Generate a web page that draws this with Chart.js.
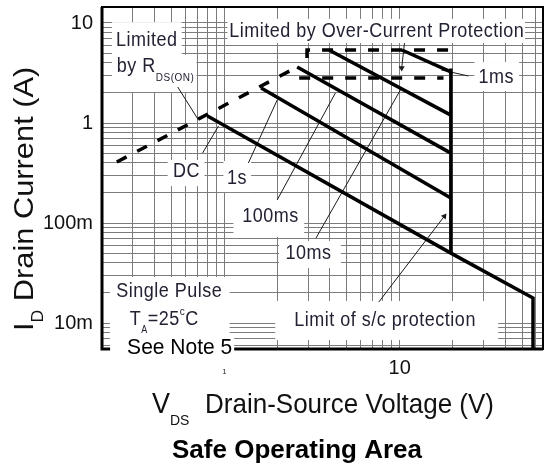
<!DOCTYPE html>
<html>
<head>
<meta charset="utf-8">
<script src="https://cdn.jsdelivr.net/npm/chart.js@4.4.0/dist/chart.umd.min.js"></script>
<style>
  html, body { margin: 0; padding: 0; background: #fff; }
  #wrap { width: 547px; height: 465px; }
</style>
</head>
<body>
<div id="wrap"><canvas id="soa" width="547" height="465"></canvas></div>
<script>
// axis ranges (V, A) and grid
const xRange = [0.2, 65.8];
const yRange = [0.0055, 14.45];
const xGrid = [0.2, 0.3, 0.4, 0.5, 0.6, 0.7, 0.8, 0.9, 1, 2, 3, 4, 5, 6, 7, 8, 9, 10, 20, 30, 40, 50, 60];
const yGrid = [0.006, 0.007, 0.008, 0.009, 0.01, 0.02, 0.03, 0.04, 0.05, 0.06, 0.07, 0.08, 0.09,
               0.1, 0.2, 0.3, 0.4, 0.5, 0.6, 0.7, 0.8, 0.9, 1, 2, 3, 4, 5, 6, 7, 8, 9, 10];
const xTickLabels = { 1: '1', 10: '10' };
const yTickLabels = { 0.01: '10m', 0.1: '100m', 1: '1', 10: '10' };

// SOA curves (V, A)
const rdsV = [0.243, 2.60];           const rdsI = [0.407, 3.63];
const dcV = [0.80, 19.6, 57.7, 57.7]; const dcI = [1.175, 0.050, 0.0178, 0.0055];
const oneSecV = [1.62, 19.6];         const oneSecI = [2.24, 0.178];
const hundredMsV = [2.60, 19.6];      const hundredMsI = [3.63, 0.50];
const tenMsV = [3.95, 19.6];          const tenMsI = [5.37, 1.20];
const oneMsV = [10.3, 19.6];          const oneMsI = [5.37, 3.24];
const limitV = [19.6, 19.6];          const limitI = [3.5, 0.050];
const ocMaxV = [2.96, 2.96, 19.6];    const ocMaxI = [4.47, 5.37, 5.37];
const ocMinV = [2.67, 17.8];          const ocMinI = [2.82, 2.82];

// leader lines for the notes (V, A)
const rdsLeadV = [0.541, 0.711];      const rdsLeadI = [2.29, 1.07];
const dcLeadV = [0.750, 0.924];       const dcLeadI = [0.50, 0.933];
const oneSecLeadV = [1.369, 2.0];     const oneSecLeadI = [0.398, 1.70];
const hundredMsLeadV = [2.0, 4.3];    const hundredMsLeadI = [0.170, 2.0];
const tenMsLeadV = [3.33, 10.1];      const tenMsLeadI = [0.0708, 2.14];
const oneMsLeadV = [24.7, 17.3];      const oneMsLeadI = [2.95, 3.39];
const ocLeadV = [10.66, 10.27];       const ocLeadI = [6.3, 3.55];
const scLeadV = [7.6, 18.0];          const scLeadI = [0.0162, 0.117];

const FAM = "'Liberation Sans', Arial, sans-serif";

// white areas behind the notes: [v1, v2, i1, i2]
const masks = [
  [0.228, 0.570, 10.2, 4.79],
  [0.228, 0.693, 4.79, 2.04],
  [1.04, 52.0, 11.0, 6.31],
  [26.7, 48.1, 4.07, 2.09],
  [0.474, 0.770, 0.427, 0.234],
  [0.987, 1.42, 0.417, 0.204],
  [1.125, 2.85, 0.174, 0.0724],
  [2.05, 4.62, 0.0661, 0.0355],
  [1.95, 36.5, 0.0166, 0.00676],
  [0.222, 1.07, 0.0288, 0.0055]
];

// notes: anchor (V, A), alignment, text runs [text, size, dy]
const notes = [
  { at: [0.360, 6.68], align: 'center', runs: [['Limited', 18, 0]] },
  { at: [0.243, 3.72], align: 'left', runs: [['by R', 18, 0], ['DS(ON)', 10, 11]] },
  { at: [7.40, 8.32], align: 'center', runs: [['Limited by Over-Current Protection', 18, 0]] },
  { at: [35.6, 2.85], align: 'center', runs: [['1ms', 18, 0]] },
  { at: [0.608, 0.327], align: 'center', runs: [['DC', 18, 0]] },
  { at: [1.178, 0.282], align: 'center', runs: [['1s', 18, 0]] },
  { at: [1.83, 0.116], align: 'center', runs: [['100ms', 18, 0]] },
  { at: [3.02, 0.0495], align: 'center', runs: [['10ms', 18, 0]] },
  { at: [8.26, 0.0107], align: 'center', runs: [['Limit of s/c protection', 18, 0]] },
  { at: [0.484, 0.0209], align: 'center', runs: [['Single Pulse', 18, 0]] },
  { at: [0.288, 0.0108], align: 'left', runs: [['T', 18, 0], ['A', 9, 9], ['=25', 18, 0], ['c', 10, -7], ['C', 18, 0]] },
  { at: [0.555, 0.00562], align: 'center', runs: [['See Note 5', 21, 0]], plain: true, box: [17, 2, 11] }
];

const curve = (xs, ys) => xs.map((v, i) => ({ x: v, y: ys[i] }));
const thick = { borderColor: '#000', borderWidth: 3.5, pointRadius: 0, tension: 0, fill: false };
const dashed = Object.assign({}, thick, { borderDash: [11, 12] });
const lead = { borderColor: '#1a1a1a', borderWidth: 1, pointRadius: 0, tension: 0, fill: false };
const arrowLead = angle => Object.assign({}, lead, {
  pointRadius: ctx => (ctx.dataIndex === 1 ? 3.5 : 0),
  pointStyle: 'triangle',
  rotation: angle,
  pointBackgroundColor: '#1a1a1a',
  pointBorderWidth: 0
});

function drawRuns(ctx, runs, x0, y0, align, stretch, spacing, color) {
  ctx.save();
  ctx.translate(x0, y0);
  ctx.scale(1, stretch);
  ctx.letterSpacing = spacing + 'px';
  ctx.textBaseline = 'middle';
  ctx.textAlign = 'left';
  ctx.fillStyle = color;
  let total = 0;
  runs.forEach(([t, size]) => { ctx.font = size + 'px ' + FAM; total += ctx.measureText(t).width; });
  let x = align === 'center' ? -total / 2 : 0;
  runs.forEach(([t, size, dy]) => {
    ctx.font = size + 'px ' + FAM;
    ctx.fillText(t, x, dy);
    x += ctx.measureText(t).width;
  });
  ctx.restore();
  return total;
}

const decor = {
  id: 'decor',
  beforeDatasetsDraw(chart) {
    const { ctx, chartArea: a, scales: { x, y } } = chart;
    ctx.save();
    ctx.fillStyle = '#fff';
    masks.forEach(([v1, v2, i1, i2]) => {
      const x1 = x.getPixelForValue(v1), x2 = x.getPixelForValue(v2);
      const y1 = y.getPixelForValue(i1), y2 = y.getPixelForValue(i2);
      ctx.fillRect(Math.min(x1, x2), Math.min(y1, y2), Math.abs(x2 - x1), Math.abs(y2 - y1));
    });
    // frame
    ctx.strokeStyle = '#000';
    ctx.lineWidth = 2;
    ctx.strokeRect(a.left, a.top, a.right - a.left, a.bottom - a.top);
    ctx.lineWidth = 3;
    ctx.beginPath();
    ctx.moveTo(a.left, a.top);
    ctx.lineTo(a.left, a.bottom);
    ctx.lineTo(a.right, a.bottom);
    ctx.stroke();
    ctx.restore();
  },
  afterDatasetsDraw(chart) {
    const { ctx, scales: { x, y } } = chart;
    notes.forEach(n => {
      const px = x.getPixelForValue(n.at[0]);
      const py = y.getPixelForValue(n.at[1]);
      if (n.box) {
        ctx.save();
        ctx.font = n.runs[0][1] + 'px ' + FAM;
        const w = ctx.measureText(n.runs[0][0]).width;
        ctx.fillStyle = '#fff';
        ctx.fillRect(px - w / 2 - n.box[0], py - n.box[2], w + n.box[0] + n.box[1], n.box[2] * 2);
        ctx.restore();
      }
      if (n.plain) drawRuns(ctx, n.runs, px, py, n.align, 1.07, 0, '#000');
      else drawRuns(ctx, n.runs, px, py, n.align, 1.12, 0.5, '#222233');
    });
  },
  afterDraw(chart) {
    const { ctx } = chart;
    // y axis title, rotated
    ctx.save();
    ctx.translate(33, 331);
    ctx.scale(1, 1.1);
    ctx.rotate(-Math.PI / 2);
    ctx.fillStyle = '#111';
    ctx.textBaseline = 'alphabetic';
    let xx = 0;
    [['I', 28, 0], ['D', 16, 10], [' Drain Current (A)', 28, 0]].forEach(([t, s, dy]) => {
      ctx.font = s + 'px ' + FAM;
      ctx.fillText(t, xx, dy);
      xx += ctx.measureText(t).width;
    });
    ctx.restore();
    // x axis title
    ctx.save();
    ctx.fillStyle = '#111';
    ctx.textBaseline = 'alphabetic';
    ctx.translate(0, 413);
    ctx.scale(1, 1.08);
    ctx.font = '27px ' + FAM;
    ctx.fillText('V', 152, 0);
    ctx.font = '14px ' + FAM;
    ctx.fillText('DS', 170, 11);
    ctx.font = '26px ' + FAM;
    ctx.fillText('Drain-Source Voltage (V)', 205, 0);
    ctx.restore();
    // chart caption
    ctx.save();
    ctx.fillStyle = '#000';
    ctx.font = 'bold 26px ' + FAM;
    ctx.textAlign = 'center';
    ctx.textBaseline = 'alphabetic';
    ctx.fillText('Safe Operating Area', 297, 458);
    ctx.restore();
  }
};

new Chart(document.getElementById('soa').getContext('2d'), {
  type: 'line',
  data: {
    datasets: [
      Object.assign({ label: 'RDS(on)', data: curve(rdsV, rdsI) }, dashed),
      Object.assign({ label: 'DC', data: curve(dcV, dcI) }, thick),
      Object.assign({ label: '1s', data: curve(oneSecV, oneSecI) }, thick),
      Object.assign({ label: '100ms', data: curve(hundredMsV, hundredMsI) }, thick),
      Object.assign({ label: '10ms', data: curve(tenMsV, tenMsI) }, thick),
      Object.assign({ label: '1ms', data: curve(oneMsV, oneMsI) }, thick),
      Object.assign({ label: 'limit', data: curve(limitV, limitI) }, thick),
      Object.assign({ label: 'OC max', data: curve(ocMaxV, ocMaxI) }, dashed),
      Object.assign({ label: 'OC min', data: curve(ocMinV, ocMinI) }, dashed),
      Object.assign({ label: 'lead rds', data: curve(rdsLeadV, rdsLeadI) }, lead),
      Object.assign({ label: 'lead dc', data: curve(dcLeadV, dcLeadI) }, lead),
      Object.assign({ label: 'lead 1s', data: curve(oneSecLeadV, oneSecLeadI) }, lead),
      Object.assign({ label: 'lead 100ms', data: curve(hundredMsLeadV, hundredMsLeadI) }, lead),
      Object.assign({ label: 'lead 10ms', data: curve(tenMsLeadV, tenMsLeadI) }, lead),
      Object.assign({ label: 'lead 1ms', data: curve(oneMsLeadV, oneMsLeadI) }, lead),
      Object.assign({ label: 'lead oc', data: curve(ocLeadV, ocLeadI) }, arrowLead(180)),
      Object.assign({ label: 'lead sc', data: curve(scLeadV, scLeadI) }, arrowLead(37.5))
    ]
  },
  options: {
    responsive: false,
    animation: false,
    layout: { padding: { top: 7, right: 2, left: 0, bottom: 0 } },
    plugins: { legend: { display: false }, tooltip: { enabled: false } },
    scales: {
      x: {
        type: 'logarithmic',
        min: xRange[0],
        max: xRange[1],
        afterBuildTicks: s => { s.ticks = xGrid.map(v => ({ value: v })); },
        afterFit: s => { s.height = 116; s.paddingLeft = 0; s.paddingRight = 0; },
        grid: { color: '#7c7c7c', lineWidth: 1, drawTicks: false },
        border: { display: false },
        ticks: {
          autoSkip: false,
          maxRotation: 0,
          padding: 7,
          color: '#111',
          font: ctx => (ctx.tick && ctx.tick.value === 1
            ? { family: FAM, size: 7, lineHeight: 4.6 }
            : { family: FAM, size: 20 }),
          callback: v => xTickLabels[v] || ''
        }
      },
      y: {
        type: 'logarithmic',
        min: yRange[0],
        max: yRange[1],
        afterBuildTicks: s => { s.ticks = yGrid.map(v => ({ value: v })); },
        afterFit: s => { s.width = 102; s.paddingTop = 0; s.paddingBottom = 0; },
        grid: { color: '#7c7c7c', lineWidth: 1, drawTicks: false },
        border: { display: false },
        ticks: {
          autoSkip: false,
          padding: 9,
          color: '#111',
          font: { family: FAM, size: 20 },
          callback: v => yTickLabels[v] || ''
        }
      }
    }
  },
  plugins: [decor]
});
</script>
</body>
</html>
